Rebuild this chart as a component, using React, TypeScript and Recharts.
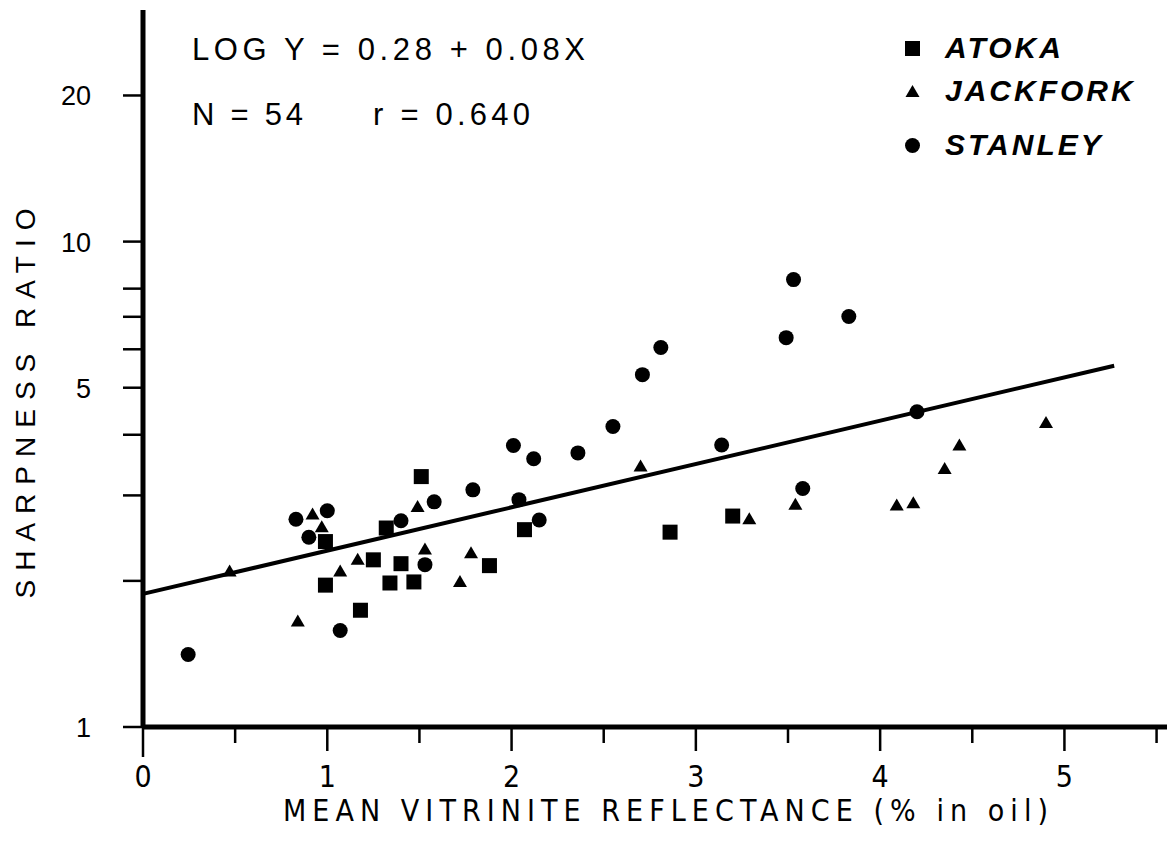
import { ScatterChart, Scatter, XAxis, YAxis, ReferenceLine, Legend } from 'recharts';

const ATOKA_X = [0.99, 0.99, 1.18, 1.25, 1.32, 1.34, 1.4, 1.47, 1.51, 1.88, 2.07, 2.86, 3.2];
const ATOKA_Y = [2.41, 1.96, 1.74, 2.21, 2.57, 1.98, 2.17, 1.99, 3.28, 2.15, 2.55, 2.52, 2.72];

const JACKFORK_X = [0.47, 0.84, 0.92, 0.97, 1.07, 1.165, 1.49, 1.53, 1.72, 1.78, 2.7, 3.29, 3.54, 4.09, 4.18, 4.35, 4.43, 4.9];
const JACKFORK_Y = [2.09, 1.65, 2.74, 2.58, 2.09, 2.21, 2.84, 2.32, 1.99, 2.28, 3.44, 2.68, 2.87, 2.86, 2.89, 3.4, 3.8, 4.23];

const STANLEY_X = [0.245, 0.83, 0.9, 1.0, 1.07, 1.4, 1.53, 1.58, 1.79, 2.01, 2.04, 2.12, 2.15, 2.36, 2.55, 2.71, 2.81, 3.14, 3.49, 3.53, 3.58, 3.83, 4.2];
const STANLEY_Y = [1.41, 2.68, 2.46, 2.79, 1.58, 2.66, 2.16, 2.91, 3.08, 3.8, 2.94, 3.57, 2.67, 3.67, 4.16, 5.32, 6.05, 3.81, 6.34, 8.35, 3.1, 7.01, 4.46];

// fitted line end points
const FIT_X = [0, 5.27];
const FIT_Y = [1.88, 5.55];

const X_TICKS = [0, 0.5, 1, 1.5, 2, 2.5, 3, 3.5, 4, 4.5, 5, 5.5];
const Y_TICKS = [1, 2, 3, 4, 5, 6, 7, 8, 9, 10, 20];
const Y_LABELED = [1, 5, 10, 20];

const SERIES = ['ATOKA', 'JACKFORK', 'STANLEY'];

const FONT = '"Liberation Sans", Arial, sans-serif';
const NARROW = '"Liberation Sans Narrow", "DejaVu Sans Condensed", "Liberation Sans", sans-serif';
const INK = '#000';

const zip = (xs: number[], ys: number[]) => xs.map((x, i) => ({ x, y: ys[i] }));

const atoka = zip(ATOKA_X, ATOKA_Y);
const jackfork = zip(JACKFORK_X, JACKFORK_Y);
const stanley = zip(STANLEY_X, STANLEY_Y);

const Square = ({ cx, cy }: any) => <rect x={cx - 7.5} y={cy - 7.5} width={15} height={15} fill={INK} />;
const Triangle = ({ cx, cy }: any) => (
  <polygon points={`${cx},${cy - 7} ${cx - 7},${cy + 5} ${cx + 7},${cy + 5}`} fill={INK} />
);
const Dot = ({ cx, cy }: any) => <circle cx={cx} cy={cy} r={7.5} fill={INK} />;

function XTick({ x, y, payload }: any) {
  const v = payload.value as number;
  const major = Number.isInteger(v);
  const len = v === 0 ? 30 : major ? 24 : 16;
  return (
    <g>
      <line x1={x} y1={y} x2={x} y2={y + len} stroke={INK} strokeWidth={2.5} />
      {major && (
        <text x={x} y={y + 60} textAnchor="middle" fontSize={30} fontFamily={NARROW} fill={INK}>
          {v}
        </text>
      )}
    </g>
  );
}

function YTick({ x, y, payload }: any) {
  const v = payload.value as number;
  return (
    <g>
      <line x1={x - 20} y1={y} x2={x} y2={y} stroke={INK} strokeWidth={2.5} />
      {Y_LABELED.includes(v) && (
        <text x={x - 52} y={y + 10} textAnchor="end" fontSize={27} fontFamily={FONT} fill={INK}>
          {v}
        </text>
      )}
    </g>
  );
}

function XTitle({ viewBox }: any) {
  const cx = viewBox.x + viewBox.width / 2 + 6;
  return (
    <text x={cx - 382} y={821} textLength={765} lengthAdjust="spacing" fontSize={30} fontFamily={NARROW} fill={INK}>
      MEAN  VITRINITE  REFLECTANCE  (% in oil)
    </text>
  );
}

function YTitle({ viewBox }: any) {
  const cy = viewBox.y + viewBox.height / 2 + 35;
  return (
    <text
      x={0}
      y={0}
      transform={`translate(35, ${cy + 195}) rotate(-90)`}
      textLength={390}
      lengthAdjust="spacing"
      fontSize={28}
      fontFamily={FONT}
      fill={INK}
    >
      SHARPNESS  RATIO
    </text>
  );
}

function LegendBox() {
  const icons = [
    <rect key="s" x={1} y={1} width={15} height={15} fill={INK} />,
    <polygon key="t" points="8.5,2 1.5,14 15.5,14" fill={INK} />,
    <circle key="c" cx={8.5} cy={8.5} r={7.5} fill={INK} />,
  ];
  const centers = [0, 43, 97];
  return (
    <div style={{ position: 'relative', width: 260, height: 130 }}>
      {SERIES.map((name, i) => (
        <div
          key={name}
          style={{ position: 'absolute', top: centers[i] - 20, left: 0, height: 40, display: 'flex', alignItems: 'center' }}
        >
          <svg width={17} height={17}>{icons[i]}</svg>
          <span
            style={{
              marginLeft: 24,
              fontFamily: FONT,
              fontWeight: 'bold',
              fontStyle: 'italic',
              fontSize: 30,
              letterSpacing: 3,
              color: INK,
              lineHeight: '40px',
            }}
          >
            {name}
          </span>
        </div>
      ))}
    </div>
  );
}

export default function App() {
  return (
    <div style={{ position: 'relative', width: 1175, height: 846, margin: -8, background: '#fff', overflow: 'hidden' }}>
      <ScatterChart width={1175} height={846} margin={{ top: 10, right: 0, bottom: 59, left: 63 }}>
        <XAxis
          type="number"
          dataKey="x"
          domain={[0, 5.6]}
          ticks={X_TICKS}
          tick={<XTick />}
          tickLine={false}
          tickSize={0}
          tickMargin={0}
          height={60}
          axisLine={{ stroke: INK, strokeWidth: 5 }}
          allowDataOverflow
          label={<XTitle />}
        />
        <YAxis
          type="number"
          dataKey="y"
          scale="log"
          domain={[1, 30]}
          ticks={Y_TICKS}
          tick={<YTick />}
          tickLine={false}
          tickSize={0}
          tickMargin={0}
          width={80}
          axisLine={{ stroke: INK, strokeWidth: 5 }}
          allowDataOverflow
          label={<YTitle />}
        />
        <ReferenceLine
          segment={[
            { x: FIT_X[0], y: FIT_Y[0] },
            { x: FIT_X[1], y: FIT_Y[1] },
          ]}
          stroke={INK}
          strokeWidth={4}
          ifOverflow="visible"
        />
        <Scatter name="ATOKA" data={atoka} shape={Square} isAnimationActive={false} />
        <Scatter name="JACKFORK" data={jackfork} shape={Triangle} isAnimationActive={false} />
        <Scatter name="STANLEY" data={stanley} shape={Dot} isAnimationActive={false} />
        <Legend
          layout="horizontal"
          verticalAlign="middle"
          align="center"
          content={<LegendBox />}
          wrapperStyle={{ position: 'absolute', top: 48, left: 904, width: 260 }}
        />
      </ScatterChart>
      <svg width={1175} height={846} style={{ position: 'absolute', left: 0, top: 0, pointerEvents: 'none' }}>
        <text x={192} y={60} textLength={393} lengthAdjust="spacing" fontSize={31} fontFamily={FONT} fill={INK}>
          LOG  Y = 0.28 + 0.08X
        </text>
        <text x={192} y={125} textLength={111} lengthAdjust="spacing" fontSize={31} fontFamily={FONT} fill={INK}>
          N = 54
        </text>
        <text x={373} y={125} textLength={157} lengthAdjust="spacing" fontSize={31} fontFamily={FONT} fill={INK}>
          r = 0.640
        </text>
      </svg>
    </div>
  );
}
